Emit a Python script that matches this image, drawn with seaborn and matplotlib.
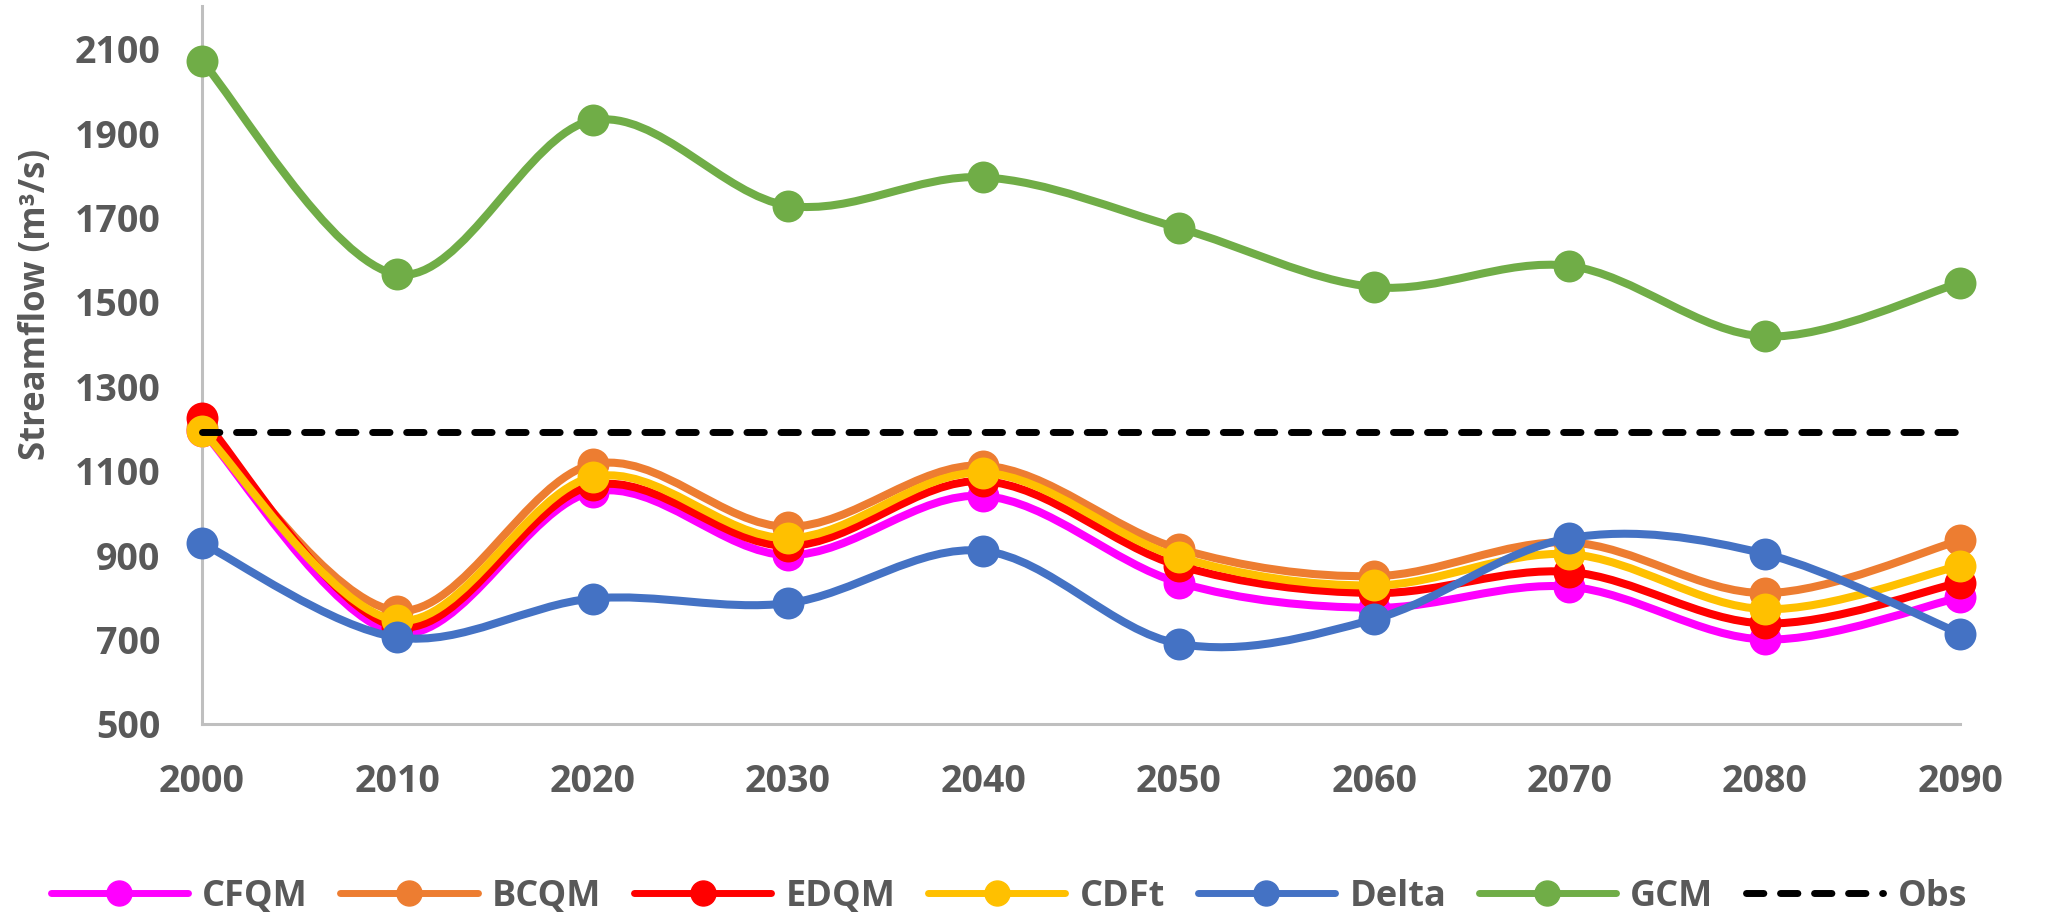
import numpy as np
import pandas as pd
import seaborn as sns
import matplotlib.pyplot as plt
from matplotlib.path import Path
from matplotlib.patches import PathPatch
from matplotlib.lines import Line2D

# values
years = [2000, 2010, 2020, 2030, 2040, 2050, 2060, 2070, 2080, 2090]
cfqm = [1195, 715, 1050, 900, 1040, 835, 775, 825, 700, 800]
bcqm = [1200, 768, 1115, 967, 1112, 915, 850, 930, 810, 935]
edqm = [1225, 730, 1065, 922, 1075, 875, 810, 860, 738, 835]
cdft = [1195, 745, 1085, 940, 1095, 895, 828, 902, 772, 875]
delta = [928, 705, 797, 786, 910, 690, 748, 940, 903, 714]
gcm = [2070, 1565, 1930, 1728, 1795, 1675, 1535, 1585, 1418, 1545]
obs = [1192, 1192, 1192, 1192, 1192, 1192, 1192, 1192, 1192, 1192]

series_names = ['CFQM', 'BCQM', 'EDQM', 'CDFt', 'Delta', 'GCM']
series_vals = [cfqm, bcqm, edqm, cdft, delta, gcm]
colors = ['#FF00FF', '#ED7D31', '#FF0000', '#FFC000', '#4472C4', '#70AD47']
ytick_vals = [500, 700, 900, 1100, 1300, 1500, 1700, 1900, 2100]

sns.set_style('white')
plt.rcParams['font.family'] = ['Open Sans', 'DejaVu Sans']
grey = '#595959'


def smooth_path(x, y):
    # Excel-like smoothed line: Catmull-Rom segments as cubic Beziers
    pts = np.column_stack([x, y]).astype(float)
    n = len(pts)
    verts = [pts[0]]
    codes = [Path.MOVETO]
    for i in range(n - 1):
        p0 = pts[max(i - 1, 0)]
        p1 = pts[i]
        p2 = pts[i + 1]
        p3 = pts[min(i + 2, n - 1)]
        verts += [p1 + (p2 - p0) / 6, p2 - (p3 - p1) / 6, p2]
        codes += [Path.CURVE4] * 3
    return Path(verts, codes)


fig = plt.figure(figsize=(20.59, 9.14), dpi=100)
ax = fig.add_axes([0.0981, 0.208, 0.952 - 0.0981, 0.993 - 0.208])

z = 2
for name, vals, col in zip(series_names, series_vals, colors):
    ax.add_patch(PathPatch(smooth_path(years, vals), fill=False, edgecolor=col,
                           lw=5.8, capstyle='round', joinstyle='round', zorder=z))
    sns.lineplot(x=years, y=vals, ax=ax, color=col, linestyle='', marker='o',
                 markersize=23, markeredgewidth=0, zorder=z + 0.5)
    ax.lines[-1].set_clip_on(False)
    z += 1

sns.lineplot(x=years, y=obs, ax=ax, color='black', lw=5, zorder=z)
ax.lines[-1].set_dashes((2.5, 2.4))
ax.lines[-1].set_dash_capstyle('round')
ax.lines[-1].set_clip_on(False)

ax.set_xlim(2000, 2090)
ax.set_ylim(500, 2200)
ax.set_xticks(years)
ax.set_yticks(ytick_vals)
ax.tick_params(length=0, labelsize=27, labelcolor=grey)
ax.tick_params(axis='y', pad=30)
ax.tick_params(axis='x', pad=28)
for lab in ax.get_xticklabels() + ax.get_yticklabels():
    lab.set_fontweight('bold')

ax.set_ylabel('Streamflow (m³/s)', fontsize=25, fontweight='bold', color=grey)
ax.yaxis.set_label_coords(-0.084, 0.585)
ax.set_xlabel('')

for side in ['top', 'right']:
    ax.spines[side].set_visible(False)
for side in ['left', 'bottom']:
    ax.spines[side].set_color('#BFBFBF')
    ax.spines[side].set_linewidth(2.2)

handles = [Line2D([], [], color=c, lw=5, marker='o', markersize=18, solid_capstyle='round')
           for c in colors]
obs_handle = Line2D([], [], color='black', lw=5, dash_capstyle='round')
obs_handle.set_dashes((2.5, 2.4))
handles.append(obs_handle)
labels = series_names + ['Obs']

leg = fig.legend(handles, labels, loc='center', bbox_to_anchor=(0.49, 0.019), ncol=7,
                 frameon=False, prop={'size': 26, 'weight': 'bold'},
                 handlelength=3.8, handletextpad=0.4, columnspacing=0.9)
for t in leg.get_texts():
    t.set_color(grey)

fig.savefig('out.png', dpi=100)
